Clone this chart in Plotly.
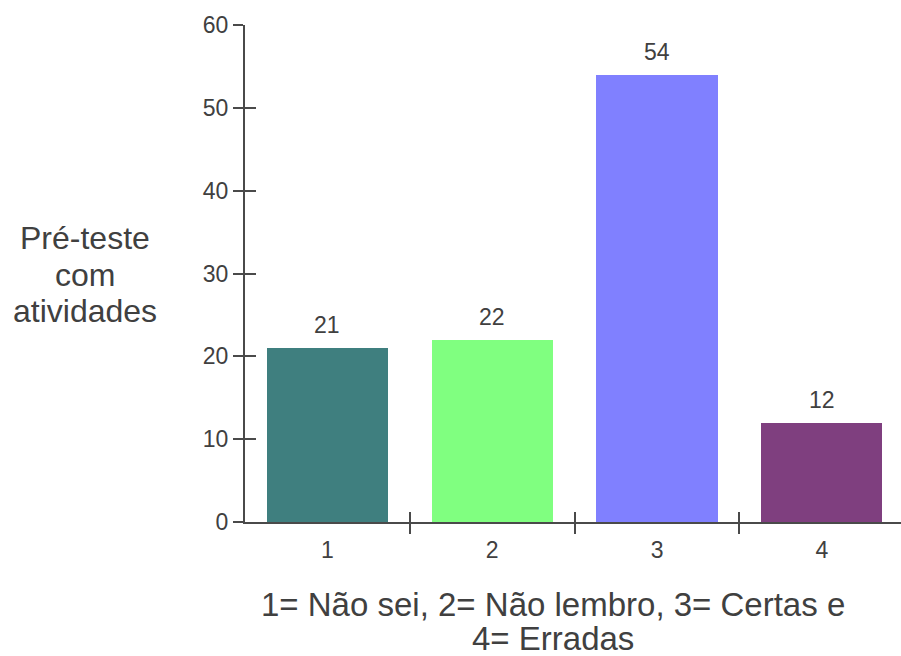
import plotly.graph_objects as go

# Answer categories and counts
categories = ["1", "2", "3", "4"]
counts = [21, 22, 54, 12]
bar_colors = ["#3f7f7f", "#80ff80", "#8080ff", "#7f3f7f"]

y_title_lines = ["Pré-teste", "com", "atividades"]
x_title_lines = ["1= Não sei, 2= Não lembro, 3= Certas e", "4= Erradas"]

FONT = "Arial, Liberation Sans, sans-serif"
TEXT = "#404040"
AXIS = "#4a4a4a"

W, H = 901, 656
ML, MR, MT, MB = 245, 0, 25, 134
PW, PH = W - ML - MR, H - MT - MB


def px_to_paper(px, py):
    """Convert page pixel coordinates to paper fractions."""
    return (px - ML) / PW, (H - MB - py) / PH


positions = list(range(1, len(categories) + 1))
boundaries = [p + 0.5 for p in positions[:-1]]

fig = go.Figure()
fig.add_trace(go.Bar(
    x=positions, y=counts, width=0.735,
    marker=dict(color=bar_colors, line=dict(width=0)),
    hoverinfo="skip", showlegend=False,
))
# empty traces so the overlay axes (used for two-sided tick marks) get drawn
for xa, ya in [("x2", "y"), ("x3", "y"), ("x", "y2")]:
    fig.add_trace(go.Scatter(x=[None], y=[None], xaxis=xa, yaxis=ya,
                             mode="markers", showlegend=False, hoverinfo="skip"))

# value labels above each bar
for p, v in zip(positions, counts):
    fig.add_annotation(x=p, y=v, xref="x", yref="y", text=str(v),
                       showarrow=False, yanchor="bottom", yshift=8,
                       font=dict(family=FONT, size=23, color=TEXT))

# axis titles, one annotation per line
for line, cy in zip(y_title_lines, [238, 274.5, 311]):
    ax, ay = px_to_paper(85, cy)
    fig.add_annotation(x=ax, y=ay, xref="paper", yref="paper",
                       text=line, showarrow=False, xanchor="center", yanchor="middle",
                       font=dict(family=FONT, size=32, color=TEXT))
for line, cy in zip(x_title_lines, [604, 639]):
    ax, ay = px_to_paper(553, cy)
    fig.add_annotation(x=ax, y=ay, xref="paper", yref="paper",
                       text=line, showarrow=False, xanchor="center", yanchor="middle",
                       font=dict(family=FONT, size=33, color=TEXT))

xr = [0.5, 4.48]
fig.update_layout(
    width=W, height=H,
    margin=dict(l=ML, r=MR, t=MT, b=MB),
    paper_bgcolor="white", plot_bgcolor="white",
    font=dict(family=FONT, color=TEXT),
    bargap=0,
    xaxis=dict(range=xr, tickvals=positions, ticktext=categories,
               ticks="outside", ticklen=6, tickcolor="rgba(0,0,0,0)",
               showgrid=False, zeroline=False, showline=True,
               linecolor=AXIS, linewidth=2,
               tickfont=dict(family=FONT, size=23, color=TEXT)),
    xaxis2=dict(range=xr, overlaying="x", anchor="y", side="bottom",
                tickvals=boundaries, ticks="outside", ticklen=11, tickwidth=2,
                tickcolor=AXIS, showticklabels=False, showgrid=False,
                zeroline=False, showline=False),
    xaxis3=dict(range=xr, overlaying="x", anchor="y", side="bottom",
                tickvals=boundaries, ticks="inside", ticklen=10, tickwidth=2,
                tickcolor=AXIS, showticklabels=False, showgrid=False,
                zeroline=False, showline=False),
    yaxis=dict(range=[0, 60], dtick=10, tick0=0,
               ticks="outside", ticklen=10, tickwidth=2, tickcolor=AXIS,
               showgrid=False, zeroline=False, showline=True,
               linecolor=AXIS, linewidth=2,
               tickfont=dict(family=FONT, size=23, color=TEXT)),
    yaxis2=dict(range=[0, 60], dtick=10, tick0=0, overlaying="y", anchor="x",
                side="left", ticks="inside", ticklen=11, tickwidth=2,
                tickcolor=AXIS, showticklabels=False, showgrid=False,
                zeroline=False, showline=False),
)

fig.write_html("out.html")
